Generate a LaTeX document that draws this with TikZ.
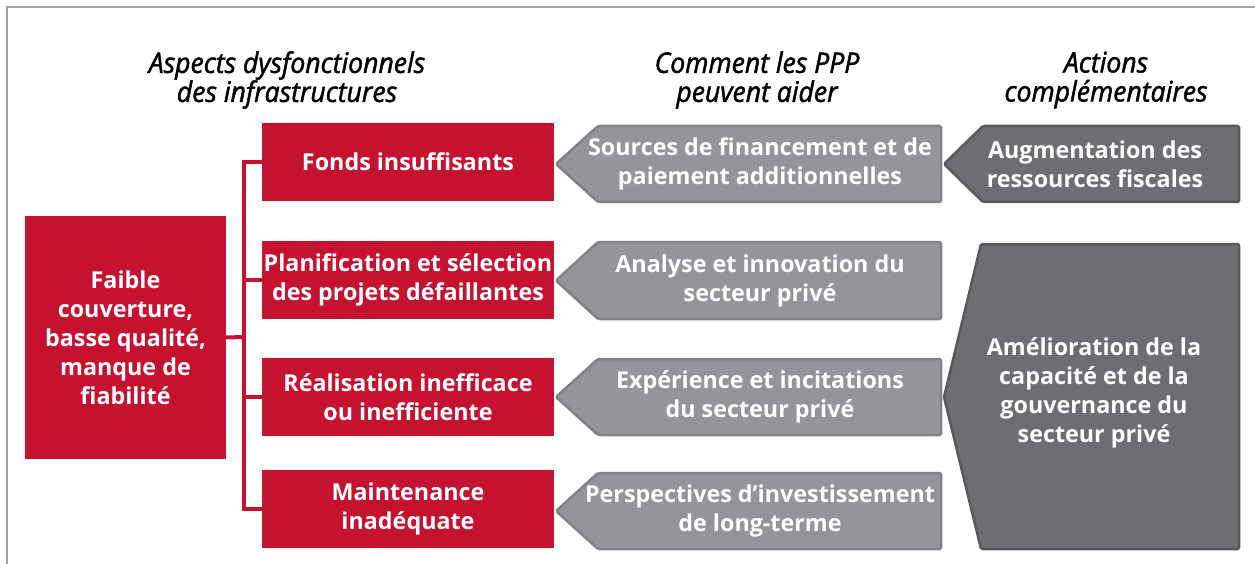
\documentclass[tikz,border=0pt]{standalone}
\usepackage{fontspec}
\setmainfont{Open Sans}
\newfontfamily\headfont[FakeStretch=0.94, FakeBold=1.6]{Open Sans}
\definecolor{pppred}{RGB}{196,18,48}
\definecolor{midgray}{RGB}{147,149,152}
\definecolor{midgrayline}{RGB}{128,130,133}
\definecolor{darkgray}{RGB}{109,110,113}
\definecolor{darkgrayline}{RGB}{88,89,91}
\definecolor{framegray}{RGB}{160,162,165}
\begin{document}
\begin{tikzpicture}[x=1pt,y=-1pt,
  redbox/.style={fill=pppred, draw=none, text=white, align=center,
    font=\fontsize{23.3}{29}\selectfont\bfseries, inner sep=0pt},
  label/.style={text=white, align=center, font=\fontsize{23.3}{29}\selectfont\bfseries, inner sep=0pt},
  head/.style={align=center, font=\headfont\fontsize{28.3}{29}\selectfont\itshape, inner sep=0pt},
  midarrow/.style={fill=midgray, draw=midgrayline, line width=2.5pt, rounded corners=1.5pt, line join=round},
  darkarrow/.style={fill=darkgray, draw=darkgrayline, line width=2.5pt, rounded corners=1.5pt, line join=round},
  wire/.style={draw=pppred, line width=4pt}
]
\useasboundingbox (0,0) rectangle (1255,564);
\begin{scope}
\clip (0,0) rectangle (1255,564);
\draw[framegray, line width=2pt] (7,580) -- (7,7) -- (1270,7);
\end{scope}

% headings
\node[head] (h1) at (287,80) {Aspects dysfonctionnels\\des infrastructures};
\node[head] (h2) at (757,80) {Comment les PPP\\peuvent aider};
\node[head] (h3) at (1106,80) {Actions\\complémentaires};

% left box
\node[redbox, minimum width=201pt, minimum height=243pt] (L) at (125.5,337.5)
  {Faible\\couverture,\\basse qualité,\\manque de\\fiabilité};

% red boxes
\node[redbox, minimum width=292pt, minimum height=78pt] (b1) at (408,162) {Fonds insuffisants};
\node[redbox, minimum width=292pt, minimum height=78pt] (b2) at (408,280) {Planification et sélection\\des projets défaillantes};
\node[redbox, minimum width=292pt, minimum height=78pt] (b3) at (408,397) {Réalisation inefficace\\ou inefficiente};
\node[redbox, minimum width=292pt, minimum height=78pt] (b4) at (408,509) {Maintenance\\inadéquate};

% connectors
\coordinate (bus) at (244,337);
\draw[wire] (L.east) -- (bus);
\draw[wire, line join=miter] (b1.west) -- (b1.west -| bus) -- (b4.west -| bus) -- (b4.west);
\draw[wire] (b2.west -| bus) -- (b2.west);
\draw[wire] (b3.west -| bus) -- (b3.west);

% middle arrows
\draw[midarrow] (941,126) -- (598,126) -- (556,164) -- (598,202) -- (941,202) -- cycle;
\draw[midarrow] (941,242) -- (598,242) -- (556,280.5) -- (598,319) -- (941,319) -- cycle;
\draw[midarrow] (941,359) -- (598,359) -- (556,397) -- (598,435) -- (941,435) -- cycle;
\draw[midarrow] (941,473) -- (598,473) -- (556,511) -- (598,549) -- (941,549) -- cycle;
\node[label] (m1) at (760,164) {Sources de financement et de\\paiement additionnelles};
\node[label] (m2) at (760,280.5) {Analyse et innovation du\\secteur privé};
\node[label] (m3) at (760,397) {Expérience et incitations\\du secteur privé};
\node[label] (m4) at (760,511) {Perspectives d’investissement\\de long-terme};

% right shapes
\draw[darkarrow] (1239,126) -- (983,126) -- (944,164) -- (983,202) -- (1239,202) -- cycle;
\draw[darkarrow] (1239,244) -- (981,244) -- (944,397) -- (981,549) -- (1239,549) -- cycle;
\node[label] (r1) at (1095,164) {Augmentation des\\ressources fiscales};
\node[label] (r2) at (1094,393) {Amélioration de la\\capacité et de la\\gouvernance du\\secteur privé};
\end{tikzpicture}
\end{document}
